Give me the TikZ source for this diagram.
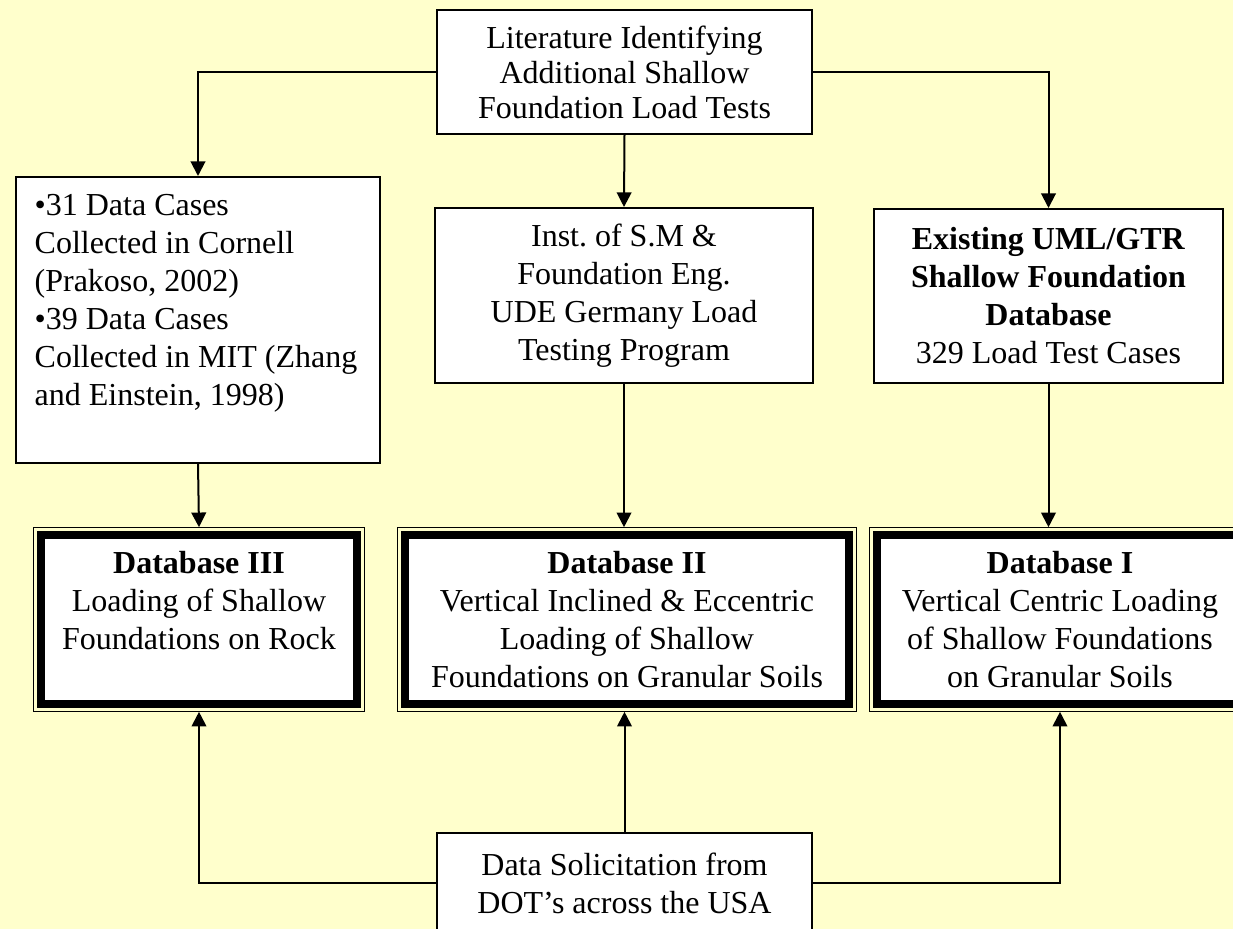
\documentclass[tikz,border=0pt]{standalone}
\usepackage{fontspec}
\setmainfont{Liberation Serif}
\frenchspacing
\usetikzlibrary{arrows.meta}
\tikzset{>={Triangle[length=11pt,width=11pt]}}
\definecolor{paleyellow}{RGB}{255,255,204}
\tikzstyle{plainbox}=[draw,line width=1.5pt,fill=white,align=center,inner sep=0pt]
\tikzstyle{dbbox}=[draw,line width=6pt,fill=white,align=center,inner sep=0pt,outer sep=5.85pt,minimum height=126.75pt]
\tikzstyle{link}=[line width=1.5pt]

\begin{document}
\begin{tikzpicture}[x=0.75pt,y=-0.75pt,every node/.style={font=\fontsize{24}{28.5}\selectfont}]
  \fill[paleyellow] (0,0) rectangle (1233,929);
  \useasboundingbox (0,0) rectangle (1233,929);
  \clip (0,0) rectangle (1233,929);

  % sources
  \node[plainbox,minimum width=281.25pt,minimum height=93pt,font=\fontsize{24}{26.25}\selectfont] (lit) at (624.5,72)
    {Literature Identifying\\Additional Shallow\\Foundation Load Tests};
  \node[plainbox,inner xsep=14pt,inner ysep=13pt] (cases) at (198,320)
    {\parbox[c][188.5pt][t]{245pt}{\raggedright\textbullet31 Data Cases\\Collected in Cornell\\(Prakoso, 2002)\\\textbullet39 Data Cases\\Collected in MIT (Zhang\\and Einstein, 1998)}};
  \node[plainbox,minimum width=283.5pt,minimum height=131.25pt] (mid) at (624,295.5)
    {Inst. of S.M \&\\Foundation Eng.\\UDE Germany Load\\Testing Program};
  \node[plainbox,minimum width=261.75pt,minimum height=130.5pt] (exist) at (1048.5,296)
    {\textbf{Existing UML/GTR}\\\textbf{Shallow Foundation}\\\textbf{Database}\\329 Load Test Cases};
  \node[plainbox,minimum width=281.25pt,minimum height=75pt] (dots) at (624.5,883)
    {Data Solicitation from\\DOT's across the USA};

  % databases
  \node[dbbox,minimum width=237pt] (db3) at (199,619.5)
    {\textbf{Database III}\\Loading of Shallow\\Foundations on Rock\\\mbox{}};
  \node[dbbox,minimum width=333pt] (db2) at (627,619.5)
    {\textbf{Database II}\\Vertical Inclined \& Eccentric\\Loading of Shallow\\Foundations on Granular Soils};
  \node[dbbox,minimum width=274.5pt] (db1) at (1060,619.5)
    {\textbf{Database I}\\Vertical Centric Loading\\of Shallow Foundations\\on Granular Soils};
  \foreach \db in {db1,db2,db3}
    \draw[line width=1pt] (\db.north west) rectangle (\db.south east);

  \draw[->,link] (lit.west) -| (cases.north);
  \draw[->,link] (lit.south) -- (mid.north);
  \draw[->,link] (lit.east) -| (exist.north);
  \draw[->,link] (cases.south) -- (db3.north);
  \draw[->,link] (mid.south) -- (mid.south |- db2.north);
  \draw[->,link] (exist.south) -- (exist.south |- db1.north);
  \draw[->,link] (dots.north) -- (dots.north |- db2.south);
  \draw[->,link] (dots.west) -| (db3.south);
  \draw[->,link] (dots.east) -| (db1.south);
\end{tikzpicture}
\end{document}
